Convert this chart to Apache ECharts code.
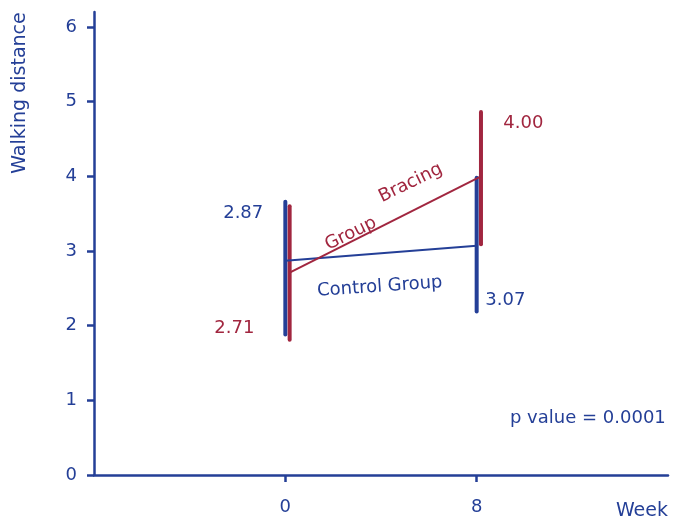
<!DOCTYPE html>
<html>
<head>
<meta charset="utf-8">
<script src="https://cdn.jsdelivr.net/npm/echarts@6/dist/echarts.min.js"></script>
<style>
html, body { margin: 0; padding: 0; background: #fff; }
#chart { width: 678px; height: 523px; }
</style>
</head>
<body>
<div id="chart"></div>
<script>
// data
const weeks = [0, 8]
const controlMeans = [2.87, 3.07]
const controlLow = [1.88, 2.19]
const controlHigh = [3.66, 3.98]
const bracingMeans = [2.71, 4.0]
const bracingLow = [1.81, 3.09]
const bracingHigh = [3.6, 4.86]
const bracingShift = 0.18 // red bars drawn a bit right of the blue ones
const xTicks = [0, 8]
const yTicks = [0, 1, 2, 3, 4, 5, 6]

// text notes, placed in data units [week, value]
const valueNotes = [
  { text: '2.87', at: [-1.76, 3.51], group: 'control' },
  { text: '2.71', at: [-2.13, 1.97], group: 'bracing' },
  { text: '3.07', at: [9.2, 2.34], group: 'control' },
  { text: '4.00', at: [9.95, 4.71], group: 'bracing' },
]
const groupNotes = [
  { text: 'Bracing', at: [5.24, 3.91], rotate: 26, group: 'bracing' },
  { text: 'Group', at: [2.74, 3.23], rotate: 26, group: 'bracing' },
  { text: 'Control Group', at: [3.95, 2.52], rotate: 4, group: 'control' },
  { text: 'p value = 0.0001', at: [12.65, 0.76], rotate: 0, group: 'control' },
]

const BLUE = '#243f97'
const RED = '#a1263f'
const FONT = 'DejaVu Sans'
const colorOf = g => (g === 'bracing' ? RED : BLUE)

function errorBar(color) {
  return function (params, api) {
    const top = api.coord([api.value(0), api.value(2)])
    const bottom = api.coord([api.value(0), api.value(1)])
    return {
      type: 'line',
      shape: { x1: top[0], y1: top[1], x2: bottom[0], y2: bottom[1] },
      style: { stroke: color, lineWidth: 4, lineCap: 'round' },
    }
  }
}

const controlPts = weeks.map((w, i) => [w, controlMeans[i]])
const bracingPts = weeks.map((w, i) => [w + bracingShift, bracingMeans[i]])
const controlBars = weeks.map((w, i) => [w, controlLow[i], controlHigh[i]])
const bracingBars = weeks.map((w, i) => [w + bracingShift, bracingLow[i], bracingHigh[i]])

const notes = valueNotes.concat(groupNotes).map(n => ({
  name: n.text,
  value: n.at,
  label: { color: colorOf(n.group), rotate: n.rotate || 0 },
}))

const chart = echarts.init(document.getElementById('chart'))
chart.setOption({
  animation: false,
  grid: { left: 94, right: 10, top: 12, bottom: 48 },
  textStyle: { fontFamily: FONT },
  xAxis: {
    type: 'value',
    min: -8,
    max: 16,
    interval: 8,
    name: 'Week',
    nameLocation: 'end',
    nameGap: 0,
    nameTextStyle: {
      color: BLUE, fontSize: 19, fontFamily: FONT,
      align: 'right', verticalAlign: 'top', padding: [27, 0, 0, 0],
    },
    axisLine: { onZero: false, lineStyle: { color: BLUE, width: 2.5 } },
    axisTick: { customValues: xTicks, length: 7, lineStyle: { color: BLUE, width: 2.5 } },
    axisLabel: { customValues: xTicks, color: BLUE, fontSize: 18, margin: 23, fontFamily: FONT },
    splitLine: { show: false },
  },
  yAxis: {
    type: 'value',
    min: 0,
    max: 6.2,
    axisLine: { show: true, onZero: false, lineStyle: { color: BLUE, width: 2.5 } },
    axisTick: { show: true, customValues: yTicks, length: 7, lineStyle: { color: BLUE, width: 2.5 } },
    axisLabel: { customValues: yTicks, color: BLUE, fontSize: 18, margin: 17, fontFamily: FONT },
    splitLine: { show: false },
  },
  graphic: [
    {
      type: 'text',
      x: 20,
      y: 93,
      rotation: Math.PI / 2,
      style: {
        text: 'Walking distance',
        fill: BLUE,
        font: '19px "DejaVu Sans"',
        align: 'center',
        verticalAlign: 'middle',
      },
    },
  ],
  series: [
    { type: 'custom', data: controlBars, renderItem: errorBar(BLUE), z: 3 },
    { type: 'custom', data: bracingBars, renderItem: errorBar(RED), z: 4 },
    {
      type: 'line', data: controlPts, symbol: 'none',
      lineStyle: { color: BLUE, width: 2 }, z: 5,
    },
    {
      type: 'line', data: bracingPts, symbol: 'none',
      lineStyle: { color: RED, width: 2 }, z: 5,
    },
    {
      type: 'scatter',
      data: notes,
      symbolSize: 0,
      silent: true,
      z: 6,
      itemStyle: { opacity: 1 },
      label: {
        show: true,
        position: 'inside',
        formatter: '{b}',
        fontSize: 18,
        fontFamily: FONT,
        opacity: 1,
        textBorderWidth: 0,
      },
    },
  ],
})
</script>
</body>
</html>
